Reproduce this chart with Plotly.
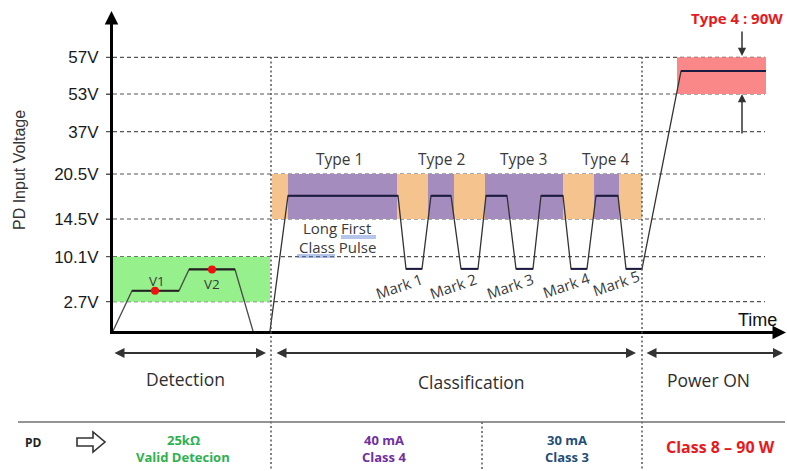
import numpy as np
import plotly.graph_objects as go

# ---------------- data ----------------
volt_ticks = [2.7, 10.1, 14.5, 20.5, 37, 53, 57]
volt_tick_labels = ["2.7V", "10.1V", "14.5V", "20.5V", "37V", "53V", "57V"]

# detection waveform (time in arbitrary units, voltage in V)
det_t = [0, 19, 66, 76, 122, 140]
det_v = [0, 4.5, 4.5, 8.0, 8.0, 0]
probe_t = [42, 99]
probe_v = [4.5, 8.0]
probe_labels = ["V1", "V2"]

# classification + power-on waveform
cls_t = [157, 175, 285, 293, 309, 318, 338, 348, 365, 373, 394, 403, 420,
         428, 450, 458, 474, 483, 505, 513, 529, 568, 653]
cls_v = [0, 17.6, 17.6, 8.1, 8.1, 17.6, 17.6, 8.1, 8.1, 17.6, 17.6, 8.1, 8.1,
         17.6, 17.6, 8.1, 8.1, 17.6, 17.6, 8.1, 8.1, 55.5, 55.5]

# zones
detect_zone_t = [0, 157]
detect_zone_v = [2.7, 10.1]
class_band_t = [159, 529]
class_band_v = [14.5, 20.5]
type_seg_start = [175, 315, 372, 481]
type_seg_end = [284, 341, 450, 506]
power_zone_t = [564, 653]
power_zone_v = [53, 57]

type_labels = ["Type 1", "Type 2", "Type 3", "Type 4"]
mark_labels = ["Mark 1", "Mark 2", "Mark 3", "Mark 4", "Mark 5"]
phase_labels = ["Detection", "Classification", "Power ON"]
pd_lines = [["25kΩ", "Valid Detecion"], ["40 mA", "Class 4"], ["30 mA", "Class 3"], ["Class 8 – 90 W"]]
pd_colors = ["#2EB04F", "#7030A0", "#1F4E79", "#E8191C"]

# ---------------- scale / layout helpers ----------------
W, H = 787, 471
L, R, T, B = 113, 780, 20, 331          # plot area in pixels
volt_anchor = [0, 2.7, 10.1, 14.5, 20.5, 37, 53, 57]
height_anchor = [0, 29.3, 74.3, 112, 157, 199.3, 237, 273.7]


def v2y(v):
    return float(np.interp(v, volt_anchor, height_anchor))


def px_x(px):
    return (px - L) / (R - L)


def px_y(py):
    return (B - py) / (B - T)


def plateaus(t, v):
    xs, ys = [], []
    for i in range(len(t) - 1):
        if v[i] == v[i + 1] and v[i] > 0:
            xs += [t[i], t[i + 1], None]
            ys += [v2y(v[i]), v2y(v[i + 1]), None]
    return xs, ys


fig = go.Figure()

# waveforms
fig.add_trace(go.Scatter(x=det_t, y=[v2y(v) for v in det_v], mode="lines",
                         line=dict(color="#4a4a4a", width=1.3), hoverinfo="skip"))
px_, py_ = plateaus(det_t, det_v)
fig.add_trace(go.Scatter(x=px_, y=py_, mode="lines",
                         line=dict(color="#222222", width=2.2), hoverinfo="skip"))
fig.add_trace(go.Scatter(x=cls_t, y=[v2y(v) for v in cls_v], mode="lines",
                         line=dict(color="#333333", width=1.3), hoverinfo="skip"))
px_, py_ = plateaus(cls_t, cls_v)
fig.add_trace(go.Scatter(x=px_, y=py_, mode="lines",
                         line=dict(color="#1b1b40", width=2.0), hoverinfo="skip"))
fig.add_trace(go.Scatter(x=probe_t, y=[v2y(v) for v in probe_v], mode="markers",
                         marker=dict(color="#F01010", size=8), hoverinfo="skip"))

shapes = []
# dashed voltage gridlines
for v in volt_ticks:
    shapes.append(dict(type="line", xref="paper", yref="y", x0=px_x(106), x1=px_x(765),
                       y0=v2y(v), y1=v2y(v), layer="below",
                       line=dict(color="#555555", width=1.2, dash="4px,3px")))
# zones
shapes.append(dict(type="rect", xref="x", yref="y", x0=detect_zone_t[0], x1=detect_zone_t[1],
                   y0=v2y(detect_zone_v[0]), y1=v2y(detect_zone_v[1]), layer="below",
                   fillcolor="#96F08C", line=dict(width=0)))
shapes.append(dict(type="rect", xref="x", yref="y", x0=class_band_t[0], x1=class_band_t[1],
                   y0=v2y(class_band_v[0]), y1=v2y(class_band_v[1]), layer="below",
                   fillcolor="#F5C38E", line=dict(width=0)))
for s, e in zip(type_seg_start, type_seg_end):
    shapes.append(dict(type="rect", xref="x", yref="y", x0=s, x1=e,
                       y0=v2y(class_band_v[0]), y1=v2y(class_band_v[1]), layer="below",
                       fillcolor="#A58CBE", line=dict(width=0)))
shapes.append(dict(type="rect", xref="x", yref="y", x0=power_zone_t[0], x1=power_zone_t[1],
                   y0=v2y(power_zone_v[0]), y1=v2y(power_zone_v[1]), layer="below",
                   fillcolor="#FA8888", line=dict(width=0)))
# vertical dotted phase separators
for xx, y0, y1 in [(271, 57, 470), (642, 57, 470), (482, 422, 470)]:
    shapes.append(dict(type="line", xref="paper", yref="paper", x0=px_x(xx), x1=px_x(xx),
                       y0=px_y(y0), y1=px_y(y1),
                       line=dict(color="#555555", width=1.5, dash="2px,2.5px")))
# table separator
shapes.append(dict(type="line", xref="paper", yref="paper", x0=px_x(18), x1=px_x(785),
                   y0=px_y(422), y1=px_y(422), line=dict(color="#707070", width=1.5)))
# hollow arrow next to PD
arrow_pts = [(77, 438), (93, 438), (93, 432), (105, 442), (93, 452), (93, 446), (77, 446)]
path = "M " + " L ".join(f"{px_x(a):.5f},{px_y(b):.5f}" for a, b in arrow_pts) + " Z"
shapes.append(dict(type="path", xref="paper", yref="paper", path=path,
                   line=dict(color="#333333", width=1.6), fillcolor="white"))
# blue spell-check underlines
for x0, x1, yy in [(341, 376, 236), (297, 335, 255)]:
    for d in (0, 2):
        shapes.append(dict(type="line", xref="paper", yref="paper", x0=px_x(x0), x1=px_x(x1),
                           y0=px_y(yy + d), y1=px_y(yy + d),
                           line=dict(color="#5B7FD0", width=0.9)))

ann = []


def txt(text, x, y, size, color, family="Open Sans", angle=0, xanchor="center"):
    ann.append(dict(text=text, xref="paper", yref="paper", x=px_x(x), y=px_y(y),
                    showarrow=False, xanchor=xanchor, yanchor="middle", textangle=angle,
                    font=dict(family=family, size=size, color=color)))


def arrow(xt, yt, xs, ys, width=2, color="#333333", both=False, head=2, size=1.0):
    ann.append(dict(text="", xref="paper", yref="paper", x=px_x(xt), y=px_y(yt),
                    ax=xs - xt, ay=ys - yt, axref="pixel", ayref="pixel",
                    showarrow=True, arrowhead=head, startarrowhead=head,
                    arrowsize=size, startarrowsize=size, arrowwidth=width,
                    arrowcolor=color, arrowside="end+start" if both else "end",
                    standoff=0, startstandoff=0))


# axis arrowheads
arrow(111.5, 11, 111.5, 40, width=3, color="black", size=0.9)
arrow(788, 332.5, 760, 332.5, width=3, color="black", size=0.9)
# type 4 arrows
arrow(742, 56, 742, 30, width=1.5, color="#333333", size=1.1)
arrow(742, 94, 742, 135, width=1.5, color="#333333", size=1.1)
# phase arrows
arrow(266, 353, 113, 353, width=2, both=True, size=1.0)
arrow(636, 353, 275, 353, width=2, both=True, size=1.0)
arrow(783, 353, 645, 353, width=2, both=True, size=1.0)

# texts
txt("PD Input Voltage", 19, 170, 16, "#333333", family="Liberation Sans", angle=-90)
txt("Time", 757, 320, 18, "#111111", family="Liberation Sans")
txt("<b>Type 4 : 90W</b>", 737, 18, 15, "#E8191C")
for lab, x in zip(type_labels, [339, 442, 523, 606]):
    txt(lab, x, 159, 15.5, "#3a3a3a")
txt("Long First", 337, 228, 15, "#3a3a3a")
txt("Class Pulse", 337, 247, 15, "#3a3a3a")
for lab, x, y in zip(mark_labels, [399, 453, 510, 566, 616], [286, 286, 286, 285, 283]):
    txt(lab, x, y, 15, "#3a3a3a", angle=-19)
for lab, x, y in zip(probe_labels, [157, 212], [281, 284]):
    txt(lab, x, y, 13.5, "#3a3a3a")
for lab, x, y in zip(phase_labels, [185, 471, 708], [379, 382, 380]):
    txt(lab, x, y, 17.5, "#2e2e2e")
txt("<b>PD</b>", 33, 442, 12, "#222222")
for lines, col, x in zip(pd_lines, pd_colors, [183, 384, 567, 720]):
    if len(lines) == 2:
        txt(f"<b>{lines[0]}</b>", x, 440, 13, col)
        txt(f"<b>{lines[1]}</b>", x, 457, 13, col)
    else:
        txt(f"<b>{lines[0]}</b>", x, 447, 16, col)

fig.update_layout(
    width=W, height=H, autosize=False,
    margin=dict(l=L, r=W - R, t=T, b=H - B, pad=0),
    paper_bgcolor="white", plot_bgcolor="white",
    showlegend=False, shapes=shapes, annotations=ann,
    xaxis=dict(range=[0, R - L], showgrid=False, zeroline=False, showticklabels=False,
               ticks="", showline=True, linecolor="black", linewidth=3, fixedrange=True),
    yaxis=dict(range=[0, B - T], showgrid=False, zeroline=False,
               tickvals=[v2y(v) for v in volt_ticks], ticktext=volt_tick_labels,
               tickfont=dict(family="Liberation Sans", size=17, color="#1a1a1a"),
               ticks="outside", ticklen=4, tickwidth=1.2, tickcolor="#555555",
               ticklabelstandoff=4,
               showline=True, linecolor="black", linewidth=3, fixedrange=True),
)

fig.write_html("out.html", config={"displayModeBar": False},
               post_script="document.body.style.margin='0px';document.body.style.overflow='hidden';")
